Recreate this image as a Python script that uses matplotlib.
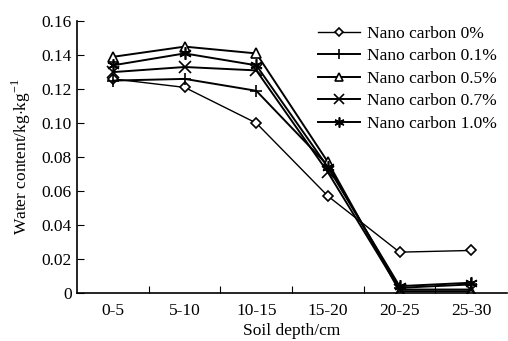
import matplotlib
matplotlib.use("Agg")
from matplotlib import pyplot as plt

plt.rcParams['font.family'] = ['Liberation Serif', 'DejaVu Serif']
plt.rcParams['mathtext.fontset'] = 'custom'
plt.rcParams['mathtext.rm'] = 'Liberation Serif'

depths = ['0-5', '5-10', '10-15', '15-20', '20-25', '25-30']
nc_0 = [0.126, 0.121, 0.100, 0.057, 0.024, 0.025]
nc_01 = [0.125, 0.126, 0.119, 0.075, 0.003, 0.005]
nc_05 = [0.139, 0.145, 0.141, 0.077, 0.001, 0.001]
nc_07 = [0.130, 0.133, 0.131, 0.071, 0.002, 0.002]
nc_10 = [0.134, 0.141, 0.134, 0.074, 0.004, 0.006]

labels = ['Nano carbon 0%', 'Nano carbon 0.1%', 'Nano carbon 0.5%',
          'Nano carbon 0.7%', 'Nano carbon 1.0%']
markers = ['D', '+', '^', 'x', (6, 2, 0)]
sizes = [5, 9, 7, 9, 9]

fig = plt.figure(figsize=(5.08, 3.41), dpi=100)
ax = fig.add_axes([0.152, 0.141, 0.846, 0.797])

x = list(range(len(depths)))
for vals, lab, m, s in zip([nc_0, nc_01, nc_05, nc_07, nc_10], labels, markers, sizes):
    lw = 1.0 if m == 'D' else 1.4
    ax.plot(x, vals, color='black', lw=lw, marker=m, ms=s,
            mfc='white', mec='black', mew=1.2, label=lab)

ax.set_xlim(-0.5, 5.5)
ax.set_ylim(0, 0.16)
ax.set_yticks([0, 0.02, 0.04, 0.06, 0.08, 0.10, 0.12, 0.14, 0.16])
ax.set_yticklabels(['0', '0.02', '0.04', '0.06', '0.08', '0.10', '0.12', '0.14', '0.16'])

# category labels sit between the boundary ticks
ax.set_xticks([i + 0.5 for i in range(5)])
ax.set_xticklabels([])
ax.set_xticks(x, minor=True)
ax.set_xticklabels(depths, minor=True)
ax.tick_params(axis='x', which='minor', length=0, pad=7)
ax.tick_params(axis='x', which='major', direction='in', length=5)
ax.tick_params(axis='y', direction='in', length=5, pad=4)
ax.tick_params(axis='both', which='both', labelsize=12.5)

for s in ['top', 'right']:
    ax.spines[s].set_visible(False)
for s in ['left', 'bottom']:
    ax.spines[s].set_linewidth(1.2)

ax.set_xlabel('Soil depth/cm', fontsize=12.5, labelpad=3)
ax.set_ylabel('Water content/kg$\\cdot$kg$^{-1}$', fontsize=12.5, labelpad=6)

ax.legend(loc='upper right', bbox_to_anchor=(1.012, 1.04), frameon=False,
          fontsize=12.5, handlelength=2.4, labelspacing=0.36, handletextpad=0.4,
          markerscale=0.8)

plt.savefig('out.png', dpi=100)
